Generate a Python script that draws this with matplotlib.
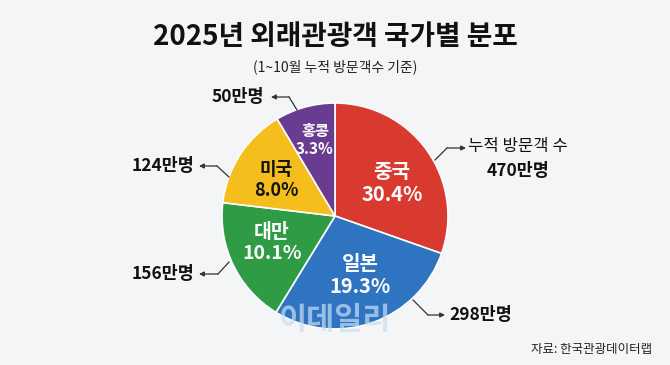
import matplotlib
matplotlib.use("Agg")
import matplotlib.pyplot as plt

plt.rcParams['font.family'] = ['Noto Sans CJK KR', 'DejaVu Sans']

# data
countries = ["중국", "일본", "대만", "미국", "홍콩"]
shares = ["30.4%", "19.3%", "10.1%", "8.0%", "3.3%"]
visitors = ["470만명", "298만명", "156만명", "124만명", "50만명"]
# the slices in the picture are not drawn to scale, so their angles (deg) are read separately
slice_deg = [109.4, 102.1, 65.3, 52.4, 30.8]
colors = ["#D93A2F", "#2F74C1", "#2F9C45", "#F6BE1C", "#693C92"]
text_colors = ["white", "white", "white", "#111111", "white"]

W, H = 670, 365
fig = plt.figure(figsize=(6.7, 3.65), dpi=100)
fig.patch.set_facecolor("#F3F5F7")
ax = fig.add_axes([0, 0, 1, 1])

cx, cy, r = 335, H - 216, 113
wedges, _ = ax.pie(slice_deg, colors=colors, startangle=90, counterclock=False,
                   center=(cx, cy), radius=r, frame=True,
                   wedgeprops=dict(edgecolor="white", linewidth=1.2))
ax.set_xlim(0, W)
ax.set_ylim(0, H)
ax.set_aspect("equal")
ax.axis("off")

# labels inside the slices (image coords)
inner_pos = [(392, 183), (360, 275), (272, 243), (276, 180), (315, 140)]
inner_size = [14.5, 14.5, 14, 13, 11]
for i in range(len(countries)):
    x, y = inner_pos[i]
    ax.text(x, H - y, countries[i] + "\n" + shares[i], ha="center", va="center",
            fontsize=inner_size[i], color=text_colors[i], fontweight="bold",
            linespacing=1.15)

# watermark, only shown on the blue slice
wm = ax.text(335, H - 320, "이데일리", ha="center", va="center", fontsize=22,
             fontweight="heavy", color="#C9DDF2", alpha=0.7)
wm.set_clip_path(wedges[1])

# arrows: start on pie, elbow, arrow tip (image coords)
arrows = [
    ((435, 160), (447, 148), (466, 148)),
    ((413, 300), (428, 315), (445, 315)),
    ((229, 262), (218, 274), (199, 274)),
    ((229, 177), (217, 166), (199, 166)),
    ((297, 110), (289, 97), (271, 97)),
]
for (p0, p1, p2) in arrows:
    ax.plot([p0[0], p1[0]], [H - p0[1], H - p1[1]], color="#333333", lw=0.9)
    ax.annotate("", xy=(p2[0], H - p2[1]), xytext=(p1[0], H - p1[1]),
                arrowprops=dict(arrowstyle="-|>", color="#333333", lw=0.9,
                                mutation_scale=7, shrinkA=0, shrinkB=0))

lab = dict(va="center", fontsize=12.5, fontweight="heavy", color="#111111")
ax.text(518, H - 147, "누적 방문객 수", ha="center", va="center", fontsize=12, color="#111111")
ax.text(518, H - 171, visitors[0], ha="center", **lab)
ax.text(449, H - 315, visitors[1], ha="left", **lab)
ax.text(194, H - 274, visitors[2], ha="right", **lab)
ax.text(194, H - 166, visitors[3], ha="right", **lab)
ax.text(264, H - 97, visitors[4], ha="right", **lab)

# titles
ax.text(335, H - 37, "2025년 외래관광객 국가별 분포", ha="center", va="center",
        fontsize=20, fontweight="heavy", color="#111111")
ax.text(335, H - 67, "(1~10월 누적 방문객수 기준)", ha="center", va="center",
        fontsize=10, color="#222222")
ax.text(652, H - 349, "자료: 한국관광데이터랩", ha="right", va="center",
        fontsize=9, color="#222222")

fig.savefig("out.png", dpi=100, facecolor=fig.get_facecolor())
